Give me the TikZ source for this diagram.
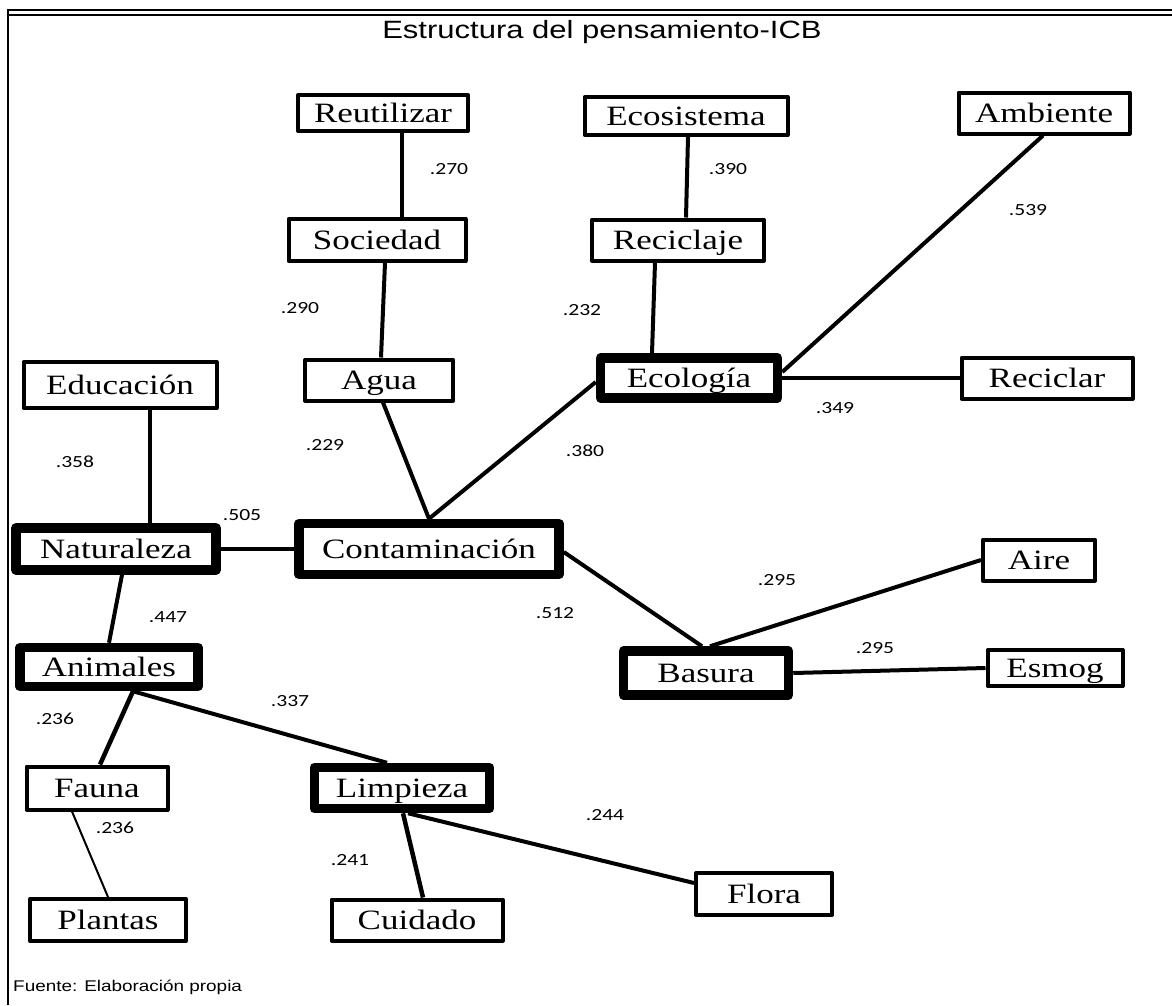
\documentclass[tikz,border=0pt]{standalone}
\usepackage{fontspec}
\setmainfont[FakeStretch=1.25]{Liberation Serif}
\newfontfamily\sansf[FakeStretch=1.24]{Liberation Sans}
\newfontfamily\footf[FakeStretch=1.22]{Liberation Sans}
\newfontfamily\numf[FakeStretch=1.27]{Carlito}
\begin{document}
\begin{tikzpicture}[x=1pt,y=-1pt,
  box/.style={draw, fill=white, inner sep=0pt, font=\fontsize{28}{32}\selectfont, line join=round, text height=18.5pt, text depth=0pt},
  thinbox/.style={box, line width=4pt},
  thickbox/.style={box, line width=9.5pt},
  num/.style={font=\numf\fontsize{17}{19}\selectfont, inner sep=0pt},
  link/.style={line width=4pt},
  frame/.style={line width=2.5pt}]
\useasboundingbox (0,0) rectangle (1172,1005);
% frame
\draw[frame] (8,1005) -- (8,10) -- (1172,10);
\draw[line width=2pt] (9,15) -- (1172,15);
\node[font=\sansf\fontsize{25}{28}\selectfont, anchor=base, inner sep=0pt] (title) at (602,38) {Estructura del pensamiento-ICB};
\node[font=\footf\fontsize{15.5}{17}\selectfont, anchor=base west, inner sep=0pt] (src) at (13,991) {Fuente: Elaboración propia};
% nodes
\node[thinbox, minimum width=170pt, minimum height=36pt] (reut) at (383,113) {Reutilizar};
\node[thinbox, minimum width=203pt, minimum height=38pt] (ecos) at (686,116) {Ecosistema};
\node[thinbox, minimum width=171pt, minimum height=41pt] (amb) at (1044,113) {Ambiente};
\node[thinbox, minimum width=177pt, minimum height=42pt] (soc) at (377,240) {Sociedad};
\node[thinbox, minimum width=172pt, minimum height=41pt] (recj) at (678,240) {Reciclaje};
\node[thinbox, minimum width=193pt, minimum height=46pt] (educ) at (120,385) {Educación};
\node[thinbox, minimum width=148pt, minimum height=41pt] (agua) at (379,380) {Agua};
\node[thickbox, minimum width=177pt, minimum height=40pt] (ecol) at (689,378) {Ecología};
\node[thinbox, minimum width=171pt, minimum height=41pt] (recl) at (1047,378) {Reciclar};
\node[thickbox, minimum width=200pt, minimum height=42pt] (nat) at (116,549) {Naturaleza};
\node[thickbox, minimum width=260pt, minimum height=51pt] (cont) at (429,549) {Contaminación};
\node[thinbox, minimum width=112pt, minimum height=41pt] (aire) at (1039,560) {Aire};
\node[thickbox, minimum width=178pt, minimum height=39pt] (anim) at (109,667) {Animales};
\node[thickbox, minimum width=165pt, minimum height=44pt] (bas) at (706,673) {Basura};
\node[thinbox, minimum width=135pt, minimum height=36pt] (esmog) at (1055,668) {Esmog};
\node[thinbox, minimum width=141pt, minimum height=43pt] (fauna) at (97,788) {Fauna};
\node[thickbox, minimum width=175pt, minimum height=41pt] (limp) at (402,788) {Limpieza};
\node[thinbox, minimum width=156pt, minimum height=42pt] (plan) at (108,920) {Plantas};
\node[thinbox, minimum width=171pt, minimum height=41pt] (cuid) at (417,920) {Cuidado};
\node[thinbox, minimum width=136pt, minimum height=42pt] (flora) at (764,894) {Flora};
% connectors
\draw[link] ([xshift=19pt]reut.south) -- ([xshift=25pt]soc.north);
\draw[link] ([xshift=2pt]ecos.south) -- ([xshift=8pt]recj.north);
\draw[link] ([xshift=8pt]soc.south) -- ([xshift=2pt]agua.north);
\draw[link] ([xshift=-23pt]recj.south) -- ([xshift=-37pt]ecol.north);
\draw[link] ([xshift=-1pt]amb.south) -- ([yshift=6pt]ecol.east);
\draw[link] (ecol.east) -- (recl.west);
\draw[link] ([xshift=4pt]agua.south) -- (cont.north);
\draw[link] (cont.north) -- ([yshift=-4pt]ecol.west);
\draw[link] (nat.east) -- (cont.west);
\draw[link] ([xshift=30pt]educ.south) -- ([xshift=34pt]nat.north);
\draw[link] ([xshift=6pt]nat.south) -- (anim.north);
\draw[link] ([yshift=-3pt]cont.east) -- ([xshift=-4pt]bas.north);
\draw[link] ([xshift=4pt]bas.north) -- (aire.west);
\draw[link] (bas.east) -- (esmog.west);
\draw[line width=4.5pt] ([xshift=24pt]anim.south) -- ([xshift=3pt]fauna.north);
\draw[link] ([xshift=24pt]anim.south) -- ([xshift=-15pt]limp.north);
\draw[line width=2pt] ([xshift=-25pt]fauna.south) -- (plan.north);
\draw[line width=4.5pt] ([xshift=1pt]limp.south) -- ([xshift=6pt]cuid.north);
\draw[link] ([xshift=6pt]limp.south) -- ([yshift=11pt]flora.west);
% labels
\node[num] (l270) at (449,169) {.270};
\node[num] (l390) at (728,169) {.390};
\node[num] (l539) at (1028,210) {.539};
\node[num] (l290) at (300,308) {.290};
\node[num] (l232) at (582,310) {.232};
\node[num] (l358) at (75,462) {.358};
\node[num] (l229) at (325,445) {.229};
\node[num] (l380) at (585,451) {.380};
\node[num] (l349) at (835,408) {.349};
\node[num] (l505) at (242,515) {.505};
\node[num] (l295a) at (777,580) {.295};
\node[num] (l512) at (555,613) {.512};
\node[num] (l447) at (168,617) {.447};
\node[num] (l295b) at (875,648) {.295};
\node[num] (l337) at (290,701) {.337};
\node[num] (l236a) at (55,719) {.236};
\node[num] (l236b) at (115,828) {.236};
\node[num] (l241) at (350,860) {.241};
\node[num] (l244) at (605,815) {.244};
\end{tikzpicture}
\end{document}
